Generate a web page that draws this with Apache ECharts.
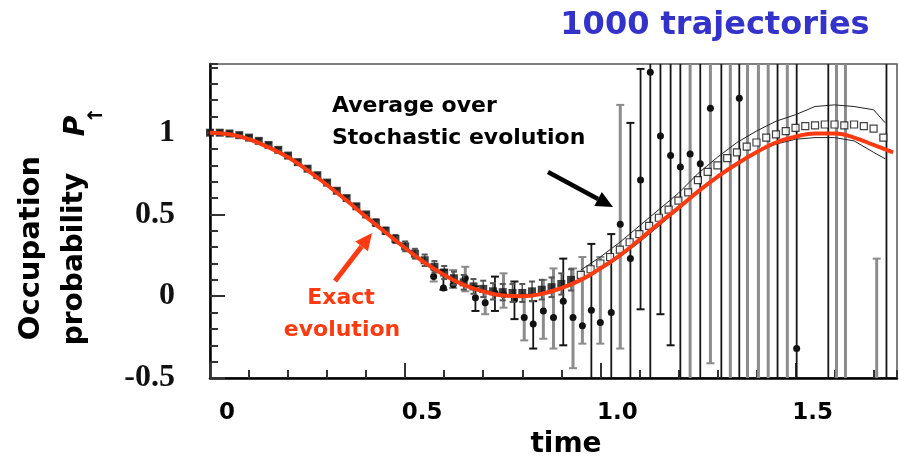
<!DOCTYPE html>
<html><head><meta charset="utf-8">
<script src="https://cdn.jsdelivr.net/npm/echarts@6/dist/echarts.min.js"></script>
<style>html,body{margin:0;padding:0;background:#fff}#c{width:899px;height:463px}</style>
</head><body><div id="c"></div>
<script>
// ---- data ----
const exactT = [0,0.05,0.1,0.15,0.2,0.25,0.3,0.35,0.4,0.45,0.5,0.55,0.6,0.65,0.7,0.75,0.8,0.85,0.9,0.95,1.0,1.05,1.1,1.15,1.2,1.25,1.3,1.35,1.4,1.45,1.5,1.55,1.6,1.65,1.7,1.75];
const exactP = [1.0,0.99,0.96,0.91,0.85,0.77,0.68,0.585,0.485,0.39,0.295,0.205,0.13,0.07,0.03,0.005,0.0,0.015,0.05,0.1,0.17,0.25,0.345,0.445,0.54,0.64,0.73,0.81,0.88,0.94,0.975,0.995,0.995,0.97,0.925,0.88];

const avgFilledT = [0,0.025,0.05,0.075,0.1,0.125,0.15,0.175,0.2,0.225,0.25,0.275,0.3,0.325,0.35,0.375,0.4,0.425,0.45,0.475,0.5,0.525,0.55,0.575,0.6,0.625,0.65,0.675,0.7,0.725,0.75,0.775,0.8,0.825,0.85,0.875,0.9,0.925];
const avgFilledP = [1.0,1.0,0.995,0.985,0.97,0.95,0.925,0.895,0.86,0.82,0.78,0.74,0.695,0.645,0.6,0.55,0.5,0.45,0.4,0.35,0.305,0.26,0.22,0.18,0.145,0.11,0.085,0.06,0.045,0.03,0.025,0.02,0.02,0.03,0.04,0.055,0.075,0.1];
const avgFilledErr = [0.012,0.012,0.012,0.012,0.012,0.012,0.012,0.012,0.012,0.012,0.012,0.012,0.012,0.012,0.012,0.012,0.012,0.02,0.02,0.025,0.03,0.03,0.035,0.035,0.04,0.04,0.045,0.045,0.05,0.05,0.05,0.055,0.055,0.06,0.06,0.06,0.065,0.065];

const avgOpenT = [0.95,0.975,1.0,1.025,1.05,1.075,1.1,1.125,1.15,1.175,1.2,1.225,1.25,1.275,1.3,1.325,1.35,1.375,1.4,1.425,1.45,1.475,1.5,1.525,1.55,1.575,1.6,1.625,1.65,1.675,1.7,1.725];
const avgOpenP = [0.13,0.165,0.2,0.24,0.285,0.33,0.38,0.43,0.48,0.53,0.585,0.635,0.71,0.76,0.8,0.845,0.88,0.915,0.94,0.97,0.99,1.01,1.03,1.04,1.045,1.05,1.05,1.045,1.05,1.04,1.025,0.97];

const bandT  = [0.95,1.0,1.05,1.1,1.15,1.2,1.25,1.3,1.35,1.4,1.45,1.5,1.55,1.6,1.65,1.7,1.73];
const bandHi = [0.16,0.24,0.33,0.43,0.53,0.63,0.75,0.85,0.94,1.01,1.07,1.11,1.16,1.17,1.16,1.14,1.06];
const bandLo = [0.10,0.16,0.24,0.33,0.43,0.53,0.64,0.73,0.81,0.88,0.93,0.96,0.97,0.97,0.95,0.88,0.84];

// noisy single estimates: time, value, lower, upper
const noisyBlack = [
  [0.598,0.05,0.04,0.16],[0.68,-0.01,-0.09,0.06],[0.73,0.02,-0.09,0.12],[0.78,-0.02,-0.14,0.09],
  [0.828,-0.17,-0.32,-0.03],[0.905,-0.03,-0.30,0.23],[0.977,-0.085,-0.55,0.32],[1.028,-0.10,-0.55,0.38],
  [1.077,0.23,-0.65,1.06],[1.103,0.71,-0.08,1.39],[1.128,1.37,-0.9,2.6],[1.154,0.98,-0.11,2.1],
  [1.18,0.86,-0.30,2.0],[1.205,0.79,-0.8,2.4],[1.256,0.81,-0.7,2.3],[1.31,1.9,-1.0,2.8],
  [1.356,1.21,-0.9,3.3],[1.454,2.0,-1.4,3.2],[1.503,-0.32,-0.9,3.4],[1.584,2.2,-1.5,3.6],[1.733,2.4,-1.6,3.5]
];
const noisyGrey = [
  [0.573,0.12,0.09,0.18],[0.623,0.07,0.05,0.16],[0.654,0.11,0.03,0.18],[0.705,-0.04,-0.11,0.03],
  [0.752,0.01,-0.07,0.14],[0.805,-0.13,-0.27,0.01],[0.854,-0.09,-0.26,0.10],[0.88,-0.13,-0.32,0.17],
  [0.93,-0.13,-0.44,0.17],[0.954,-0.18,-0.29,0.24],[1.0,-0.16,-0.29,0.24],[1.051,0.44,-0.32,1.17],
  [1.23,0.87,-0.9,2.6],[1.282,1.15,-0.41,2.7],[1.333,-0.8,-1.2,2.5],[1.377,1.6,-1.1,3.1],
  [1.405,-0.7,-1.3,3.0],[1.43,1.8,-1.0,2.9],[1.479,1.7,-1.2,3.0],[1.605,-0.9,-1.3,3.4],
  [1.628,1.9,-1.1,3.2],[1.708,-0.6,-1.4,0.23]
];

const xTicks = [0, 0.5, 1.0, 1.5];
const yTicks = [-0.5, 0, 0.5, 1];

// ---- chart ----
const chart = echarts.init(document.getElementById('c'), null, {renderer: 'canvas'});
const zip = (a, b) => a.map((v, i) => [v, b[i]]);
const isTick = (list, v) => list.some(t => Math.abs(t - v) < 1e-6);

function errRenderer(color, lw, showDot, capW) {
  return function (params, api) {
    const cs = params.coordSys;
    const top = cs.y, bot = cs.y + cs.height;
    const x = api.coord([api.value(0), 0])[0];
    const yv = api.coord([api.value(0), api.value(1)])[1];
    const yl = api.coord([api.value(0), api.value(2)])[1];
    const yh = api.coord([api.value(0), api.value(3)])[1];
    const y1 = Math.max(top, Math.min(bot, yh));
    const y2 = Math.max(top, Math.min(bot, yl));
    const children = [];
    if (y2 > y1) children.push({type: 'line', shape: {x1: x, y1: y1, x2: x, y2: y2}, style: {stroke: color, lineWidth: lw}});
    if (yh >= top && yh <= bot) children.push({type: 'line', shape: {x1: x - capW, y1: yh, x2: x + capW, y2: yh}, style: {stroke: color, lineWidth: 2}});
    if (yl >= top && yl <= bot) children.push({type: 'line', shape: {x1: x - capW, y1: yl, x2: x + capW, y2: yl}, style: {stroke: color, lineWidth: 2}});
    if (showDot && yv >= top && yv <= bot) children.push({type: 'circle', shape: {cx: x, cy: yv, r: 3.5}, style: {fill: '#111'}});
    return {type: 'group', children: children};
  };
}

function arrow(x1, y1, x2, y2, color, w, hl, hw) {
  const dx = x2 - x1, dy = y2 - y1, L = Math.hypot(dx, dy);
  const ux = dx / L, uy = dy / L, px = -uy, py = ux;
  const bx = x2 - ux * hl, by = y2 - uy * hl;
  return [
    {type: 'line', shape: {x1: x1, y1: y1, x2: bx, y2: by}, style: {stroke: color, lineWidth: w}, z: 100},
    {type: 'polygon', shape: {points: [[x2, y2], [bx + px * hw / 2, by + py * hw / 2], [bx - px * hw / 2, by - py * hw / 2]]}, style: {fill: color}, z: 100}
  ];
}

const RED = '#fe3a10';
const FONT = '"DejaVu Sans", sans-serif';

const option = {
  animation: false,
  backgroundColor: '#fff',
  grid: {left: 210, top: 64, width: 687, height: 314, show: true, borderColor: '#555', borderWidth: 1.5, backgroundColor: 'transparent'},
  xAxis: [
    {type: 'value', min: 0, max: 1.76, interval: 0.5, position: 'bottom',
     axisLine: {show: true, onZero: false, lineStyle: {color: '#000', width: 2.5}},
     axisTick: {show: true, inside: true, length: 15, lineStyle: {color: '#333', width: 2}},
     splitLine: {show: false},
     axisLabel: {show: true, showMaxLabel: false, margin: 24, padding: [0, 0, 0, 34],
       fontFamily: FONT, fontWeight: 'bold', fontSize: 23, color: '#000',
       formatter: v => isTick(xTicks, v) ? (v === 0 ? '0' : v.toFixed(1)) : ''}},
    {type: 'value', min: 0, max: 1.76, interval: 0.1, position: 'bottom', gridIndex: 0,
     axisLine: {show: false, onZero: false}, splitLine: {show: false}, axisLabel: {show: false},
     axisTick: {show: true, inside: true, length: 8, lineStyle: {color: '#333', width: 2}}}
  ],
  yAxis: [
    {type: 'value', min: -0.5, max: 1.42, interval: 0.5, position: 'left',
     axisLine: {show: true, onZero: false, lineStyle: {color: '#000', width: 2.5}},
     axisTick: {show: true, inside: true, length: 15, lineStyle: {color: '#333', width: 2}},
     splitLine: {show: false},
     axisLabel: {show: true, showMaxLabel: false, margin: 35, fontFamily: '"Liberation Serif", serif', fontWeight: 'bold', fontSize: 32, color: '#111',
       formatter: v => isTick(yTicks, v) ? String(Math.round(v * 10) / 10) : ''}},
    {type: 'value', min: -0.5, max: 1.42, interval: 0.1, position: 'left', gridIndex: 0,
     axisLine: {show: false, onZero: false}, splitLine: {show: false}, axisLabel: {show: false},
     axisTick: {show: true, inside: true, length: 8, lineStyle: {color: '#333', width: 2}}}
  ],
  series: [
    {name: 'noisy grey', type: 'custom', renderItem: errRenderer('#8c8c8c', 3, true, 4), data: noisyGrey, z: 1, silent: true},
    {name: 'noisy black', type: 'custom', renderItem: errRenderer('#151515', 1.8, true, 4), data: noisyBlack, z: 1, silent: true},
    {name: 'avg err', type: 'custom', renderItem: errRenderer('#555', 1.5, false, 3),
     data: avgFilledT.map((t, i) => [t, avgFilledP[i], avgFilledP[i] - avgFilledErr[i], avgFilledP[i] + avgFilledErr[i]]), z: 2, silent: true},
    {name: 'band hi', type: 'line', data: zip(bandT, bandHi), symbol: 'none', lineStyle: {color: '#222', width: 1}, z: 2, silent: true},
    {name: 'band lo', type: 'line', data: zip(bandT, bandLo), symbol: 'none', lineStyle: {color: '#222', width: 1}, z: 2, silent: true},
    {name: 'avg filled', type: 'scatter', data: zip(avgFilledT, avgFilledP), symbol: 'rect', symbolSize: 8, itemStyle: {color: '#111'}, z: 3, silent: true},
    {name: 'avg open', type: 'scatter', data: zip(avgOpenT, avgOpenP), symbol: 'rect', symbolSize: 7, itemStyle: {color: '#fff', borderColor: '#111', borderWidth: 1.2}, z: 3, silent: true},
    {name: 'exact', type: 'line', data: zip(exactT, exactP), smooth: true, symbol: 'none', lineStyle: {color: RED, width: 4}, z: 5, silent: true}
  ],
  graphic: [
    {type: 'text', x: 715, y: 26, style: {text: '1000 trajectories', font: 'bold 32px ' + FONT, fill: '#3333cc', align: 'center', verticalAlign: 'middle'}},
    {type: 'text', x: 332, y: 106, z: 100, style: {text: 'Average over', font: 'bold 22px ' + FONT, fill: '#000', align: 'left', verticalAlign: 'middle'}},
    {type: 'text', x: 332, y: 138, z: 100, style: {text: 'Stochastic evolution', font: 'bold 22px ' + FONT, fill: '#000', align: 'left', verticalAlign: 'middle'}},
    {type: 'text', x: 341, y: 298, z: 100, style: {text: 'Exact', font: 'bold 22px ' + FONT, fill: RED, align: 'center', verticalAlign: 'middle'}},
    {type: 'text', x: 342, y: 330, z: 100, style: {text: 'evolution', font: 'bold 22px ' + FONT, fill: RED, align: 'center', verticalAlign: 'middle'}},
    {type: 'text', x: 566, y: 445, style: {text: 'time', font: 'bold 28px ' + FONT, fill: '#000', align: 'center', verticalAlign: 'middle'}},
    {type: 'text', x: 31, y: 248, rotation: Math.PI / 2, style: {text: 'Occupation', font: 'bold 29px ' + FONT, fill: '#000', align: 'center', verticalAlign: 'middle'}},
    {type: 'text', x: 75, y: 259, rotation: Math.PI / 2, style: {text: 'probability', font: 'bold 28px ' + FONT, fill: '#000', align: 'center', verticalAlign: 'middle'}},
    {type: 'text', x: 77, y: 126, rotation: Math.PI / 2, style: {text: 'P', font: 'italic bold 28px ' + FONT, fill: '#000', align: 'center', verticalAlign: 'middle'}},
    {type: 'text', x: 97, y: 115, rotation: Math.PI / 2, style: {text: '↑', font: 'bold 20px ' + FONT, fill: '#000', align: 'center', verticalAlign: 'middle'}}
  ].concat(arrow(335, 281, 372, 233, RED, 5, 17, 16)).concat(arrow(548, 172, 613, 207, '#000', 4.5, 17, 16))
};
chart.setOption(option);
</script>
</body></html>
